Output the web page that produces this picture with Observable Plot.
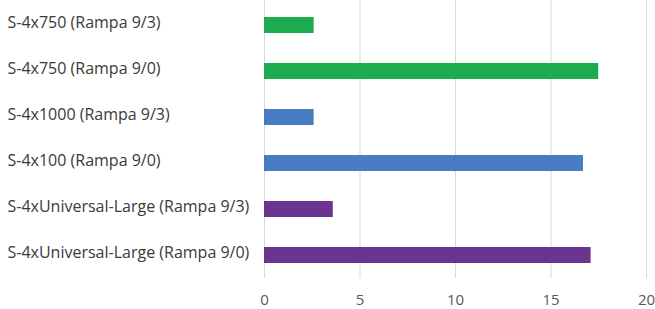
<!DOCTYPE html>
<html>
<head>
<meta charset="utf-8">
<script src="https://cdn.jsdelivr.net/npm/d3@7"></script>
<script src="https://cdn.jsdelivr.net/npm/@observablehq/plot@0.6"></script>
<style>
  html, body { margin: 0; padding: 0; background: #ffffff; }
  #chart { width: 655px; height: 309px; }
</style>
</head>
<body>
<div id="chart"></div>
<script>
const categories = [
  "S-4x750 (Rampa 9/3)",
  "S-4x750 (Rampa 9/0)",
  "S-4x1000 (Rampa 9/3)",
  "S-4x100 (Rampa 9/0)",
  "S-4xUniversal-Large (Rampa 9/3)",
  "S-4xUniversal-Large (Rampa 9/0)"
];
const values = [2.6, 17.5, 2.6, 16.7, 3.6, 17.1];
const families = ["S-4x750", "S-4x750", "S-4x1000", "S-4x1000", "S-4xUniversal-Large", "S-4xUniversal-Large"];
const xTicks = [0, 5, 10, 15, 20];

const data = categories.map((c, i) => ({category: c, value: values[i], family: families[i]}));

const chart = Plot.plot({
  width: 655,
  height: 309,
  marginLeft: 264,
  marginRight: 9,
  marginTop: 0,
  insetTop: 2,
  marginBottom: 31,
  style: {fontFamily: "'Open Sans', sans-serif", background: "#ffffff"},
  x: {domain: [0, 20], ticks: xTicks},
  y: {domain: categories, paddingInner: 0.66, paddingOuter: 0.33},
  color: {domain: ["S-4x750", "S-4x1000", "S-4xUniversal-Large"], range: ["#1eaa4f", "#4a7cc3", "#6b348f"]},
  marks: [
    Plot.gridX(xTicks, {stroke: "#d9d9d9", strokeOpacity: 1, strokeWidth: 1}),
    Plot.barX(data, {x: "value", y: "category", fill: "family"}),
    Plot.axisX({ticks: xTicks, tickSize: 0, tickPadding: 16, fontSize: 15, color: "#595959", label: null}),
    Plot.axisY({tickSize: 0, textAnchor: "start", dx: -248, dy: -3, fontSize: 16, color: "#3a3a3a", label: null})
  ]
});
document.getElementById("chart").appendChild(chart);
</script>
</body>
</html>
